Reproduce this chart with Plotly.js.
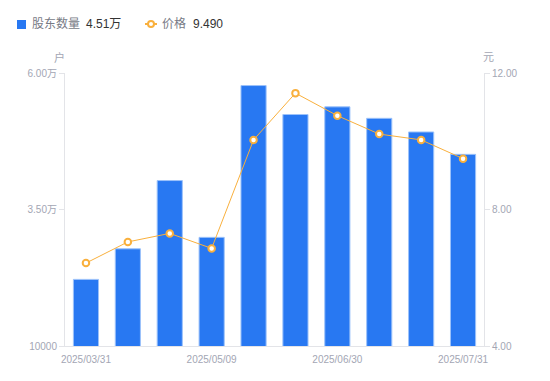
<!DOCTYPE html>
<html>
<head>
<meta charset="utf-8">
<script src="https://cdn.plot.ly/plotly-3.0.1.min.js"></script>
<style>html,body{margin:0;padding:0;background:#fff;}#chart{width:550px;height:381px;}</style>
</head>
<body>
<div id="chart"></div>
<script>
// Data
const dates = ['2025/03/31','2025/04/10','2025/04/20','2025/05/09','2025/05/20','2025/06/10','2025/06/30','2025/07/10','2025/07/20','2025/07/31'];
const holders = [22200, 27800, 40300, 29900, 57700, 52400, 53800, 51700, 49200, 45100];
const prices = [6.43, 7.05, 7.30, 6.86, 10.04, 11.41, 10.75, 10.21, 10.04, 9.49];
const shownDates = ['2025/03/31','2025/05/09','2025/06/30','2025/07/31'];
const leftTicks = [10000, 35000, 60000];
const leftTickText = ['10000', '3.50万', '6.00万'];
const rightTicks = [4, 8, 12];
const rightTickText = ['4.00', '8.00', '12.00'];

const FONT = 'Liberation Sans, Arial, Noto Sans CJK SC, sans-serif';
const GRAY = '#a3a6b4';
const AXIS = '#e3e4e8';
const BLUE = '#2878f2';
const ORANGE = '#f9b03d';

// plot area pixel geometry
const L = 65, R = 484, T = 73, B = 346;
const px = x => (x - L) / (R - L);
const py = y => (B - y) / (B - T);

const traces = [
  {
    type: 'bar', x: dates, y: holders, yaxis: 'y', width: 0.6,
    marker: {color: BLUE, line: {color: '#9cc2fa', width: 1}},
    hoverinfo: 'skip', showlegend: false
  },
  {
    type: 'scatter', mode: 'lines+markers', x: dates, y: prices, yaxis: 'y2',
    line: {color: ORANGE, width: 1},
    marker: {symbol: 'circle', size: 6.5, color: '#ffffff', line: {color: ORANGE, width: 2}},
    hoverinfo: 'skip', showlegend: false
  }
];

const layout = {
  width: 550, height: 381,
  margin: {l: L, r: 550 - R, t: T, b: 381 - B, pad: 0},
  paper_bgcolor: '#fff', plot_bgcolor: '#fff',
  font: {family: FONT, size: 10, color: GRAY},
  showlegend: false,
  bargap: 0.4,
  xaxis: {
    type: 'category', range: [-0.5, 9.5],
    tickmode: 'array', tickvals: shownDates, ticktext: shownDates,
    ticks: 'outside', ticklen: 4, tickcolor: 'rgba(0,0,0,0)', showgrid: false, zeroline: false,
    showline: true, linecolor: AXIS, linewidth: 1,
    tickfont: {size: 10, color: GRAY}, fixedrange: true
  },
  yaxis: {
    range: [10000, 60000], tickmode: 'array', tickvals: leftTicks, ticktext: leftTickText,
    ticks: 'outside', ticklen: 5, tickcolor: AXIS, showgrid: false, zeroline: false,
    showline: true, linecolor: AXIS, linewidth: 1,
    tickfont: {size: 10, color: GRAY}, fixedrange: true
  },
  yaxis2: {
    overlaying: 'y', side: 'right',
    range: [4, 12], tickmode: 'array', tickvals: rightTicks, ticktext: rightTickText,
    ticks: 'outside', ticklen: 5, tickcolor: AXIS, showgrid: false, zeroline: false,
    showline: true, linecolor: AXIS, linewidth: 1,
    tickfont: {size: 10, color: GRAY}, fixedrange: true
  },
  shapes: [
    {type: 'rect', xref: 'paper', yref: 'paper', x0: px(17), x1: px(26), y0: py(20), y1: py(29),
     fillcolor: BLUE, line: {width: 0}},
    {type: 'line', xref: 'paper', yref: 'paper', x0: px(145), x1: px(157), y0: py(24), y1: py(24),
     line: {color: ORANGE, width: 2}},
    {type: 'circle', xref: 'paper', yref: 'paper', x0: px(148), x1: px(154), y0: py(21), y1: py(27),
     fillcolor: '#fff', line: {color: ORANGE, width: 2}}
  ],
  annotations: [
    {xref: 'paper', yref: 'paper', x: px(30), y: py(24), xanchor: 'left', yanchor: 'middle',
     text: '股东数量', showarrow: false, font: {size: 12, color: '#777a85', family: FONT}},
    {xref: 'paper', yref: 'paper', x: px(84), y: py(24), xanchor: 'left', yanchor: 'middle',
     text: '4.51万', showarrow: false, font: {size: 12, color: '#333', family: FONT}},
    {xref: 'paper', yref: 'paper', x: px(160), y: py(24), xanchor: 'left', yanchor: 'middle',
     text: '价格', showarrow: false, font: {size: 12, color: '#777a85', family: FONT}},
    {xref: 'paper', yref: 'paper', x: px(191), y: py(24), xanchor: 'left', yanchor: 'middle',
     text: '9.490', showarrow: false, font: {size: 12, color: '#333', family: FONT}},
    {xref: 'paper', yref: 'paper', x: px(59), y: py(57), xanchor: 'center', yanchor: 'middle',
     text: '户', showarrow: false, font: {size: 11, color: GRAY, family: FONT}},
    {xref: 'paper', yref: 'paper', x: px(489), y: py(57), xanchor: 'center', yanchor: 'middle',
     text: '元', showarrow: false, font: {size: 11, color: GRAY, family: FONT}}
  ]
};

Plotly.newPlot('chart', traces, layout, {displayModeBar: false, staticPlot: true});
</script>
</body>
</html>
